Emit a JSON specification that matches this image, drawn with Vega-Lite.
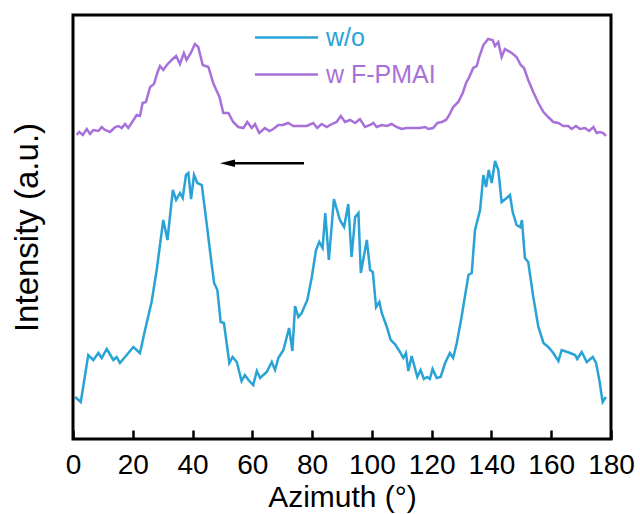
{
  "$schema": "https://vega.github.io/schema/vega-lite/v6.json",
  "width": 538,
  "height": 424,
  "autosize": "none",
  "padding": {"left": 73, "top": 15, "right": 29, "bottom": 75},
  "background": "white",
  "config": {"view": {"stroke": "black", "strokeWidth": 3}, "font": "Liberation Sans"},
  "datasets": {
    "profiles": [
      {"series":"w/o","azimuth":0.7,"intensity":42},{"series":"w/o","azimuth":2.6,"intensity":37},{"series":"w/o","azimuth":5.1,"intensity":84},{"series":"w/o","azimuth":6.8,"intensity":79},{"series":"w/o","azimuth":8.5,"intensity":86},{"series":"w/o","azimuth":9.6,"intensity":81},{"series":"w/o","azimuth":11.3,"intensity":90},{"series":"w/o","azimuth":13.5,"intensity":79},{"series":"w/o","azimuth":14.6,"intensity":82},{"series":"w/o","azimuth":15.7,"intensity":76},{"series":"w/o","azimuth":17.4,"intensity":82},{"series":"w/o","azimuth":20.2,"intensity":92},{"series":"w/o","azimuth":22.4,"intensity":86},{"series":"w/o","azimuth":24.1,"intensity":109},{"series":"w/o","azimuth":26.3,"intensity":137},{"series":"w/o","azimuth":28.0,"intensity":169},{"series":"w/o","azimuth":30.2,"intensity":219},{"series":"w/o","azimuth":31.6,"intensity":199},{"series":"w/o","azimuth":33.4,"intensity":249},{"series":"w/o","azimuth":34.5,"intensity":239},{"series":"w/o","azimuth":35.8,"intensity":246},{"series":"w/o","azimuth":36.7,"intensity":241},{"series":"w/o","azimuth":37.8,"intensity":264},{"series":"w/o","azimuth":38.6,"intensity":266},{"series":"w/o","azimuth":39.5,"intensity":240},{"series":"w/o","azimuth":40.5,"intensity":264},{"series":"w/o","azimuth":41.6,"intensity":256},{"series":"w/o","azimuth":43.1,"intensity":254},{"series":"w/o","azimuth":44.7,"intensity":216},{"series":"w/o","azimuth":45.8,"intensity":189},{"series":"w/o","azimuth":47.2,"intensity":156},{"series":"w/o","azimuth":48.3,"intensity":149},{"series":"w/o","azimuth":49.4,"intensity":117},{"series":"w/o","azimuth":50.5,"intensity":116},{"series":"w/o","azimuth":52.3,"intensity":76},{"series":"w/o","azimuth":53.4,"intensity":82},{"series":"w/o","azimuth":54.8,"intensity":77},{"series":"w/o","azimuth":56.4,"intensity":58},{"series":"w/o","azimuth":57.5,"intensity":64},{"series":"w/o","azimuth":58.7,"intensity":59},{"series":"w/o","azimuth":60.3,"intensity":54},{"series":"w/o","azimuth":61.5,"intensity":68},{"series":"w/o","azimuth":62.6,"intensity":61},{"series":"w/o","azimuth":64.8,"intensity":67},{"series":"w/o","azimuth":66.5,"intensity":77},{"series":"w/o","azimuth":67.6,"intensity":69},{"series":"w/o","azimuth":68.7,"intensity":81},{"series":"w/o","azimuth":70.4,"intensity":89},{"series":"w/o","azimuth":72.3,"intensity":111},{"series":"w/o","azimuth":73.4,"intensity":88},{"series":"w/o","azimuth":74.3,"intensity":133},{"series":"w/o","azimuth":75.4,"intensity":122},{"series":"w/o","azimuth":76.5,"intensity":126},{"series":"w/o","azimuth":78.4,"intensity":139},{"series":"w/o","azimuth":79.9,"intensity":162},{"series":"w/o","azimuth":81.3,"intensity":189},{"series":"w/o","azimuth":82.4,"intensity":197},{"series":"w/o","azimuth":83.5,"intensity":191},{"series":"w/o","azimuth":84.4,"intensity":226},{"series":"w/o","azimuth":85.6,"intensity":179},{"series":"w/o","azimuth":87.3,"intensity":240},{"series":"w/o","azimuth":89.3,"intensity":219},{"series":"w/o","azimuth":90.7,"intensity":212},{"series":"w/o","azimuth":92.1,"intensity":235},{"series":"w/o","azimuth":93.2,"intensity":182},{"series":"w/o","azimuth":94.4,"intensity":222},{"series":"w/o","azimuth":95.5,"intensity":226},{"series":"w/o","azimuth":96.3,"intensity":166},{"series":"w/o","azimuth":98.3,"intensity":199},{"series":"w/o","azimuth":99.4,"intensity":169},{"series":"w/o","azimuth":100.3,"intensity":167},{"series":"w/o","azimuth":101.4,"intensity":132},{"series":"w/o","azimuth":102.5,"intensity":137},{"series":"w/o","azimuth":103.3,"intensity":126},{"series":"w/o","azimuth":105.0,"intensity":112},{"series":"w/o","azimuth":106.3,"intensity":99},{"series":"w/o","azimuth":107.7,"intensity":95},{"series":"w/o","azimuth":109.4,"intensity":87},{"series":"w/o","azimuth":110.5,"intensity":81},{"series":"w/o","azimuth":111.4,"intensity":86},{"series":"w/o","azimuth":112.2,"intensity":68},{"series":"w/o","azimuth":113.3,"intensity":83},{"series":"w/o","azimuth":115.2,"intensity":62},{"series":"w/o","azimuth":116.3,"intensity":69},{"series":"w/o","azimuth":117.4,"intensity":60},{"series":"w/o","azimuth":118.5,"intensity":62},{"series":"w/o","azimuth":119.4,"intensity":60},{"series":"w/o","azimuth":120.3,"intensity":70},{"series":"w/o","azimuth":121.7,"intensity":61},{"series":"w/o","azimuth":123.0,"intensity":62},{"series":"w/o","azimuth":124.5,"intensity":76},{"series":"w/o","azimuth":126.1,"intensity":86},{"series":"w/o","azimuth":127.2,"intensity":81},{"series":"w/o","azimuth":128.4,"intensity":96},{"series":"w/o","azimuth":130.0,"intensity":122},{"series":"w/o","azimuth":132.3,"intensity":164},{"series":"w/o","azimuth":133.4,"intensity":166},{"series":"w/o","azimuth":134.5,"intensity":209},{"series":"w/o","azimuth":136.2,"intensity":229},{"series":"w/o","azimuth":137.3,"intensity":264},{"series":"w/o","azimuth":138.2,"intensity":252},{"series":"w/o","azimuth":139.1,"intensity":269},{"series":"w/o","azimuth":140.1,"intensity":256},{"series":"w/o","azimuth":141.2,"intensity":278},{"series":"w/o","azimuth":142.3,"intensity":269},{"series":"w/o","azimuth":143.4,"intensity":237},{"series":"w/o","azimuth":145.1,"intensity":241},{"series":"w/o","azimuth":146.2,"intensity":244},{"series":"w/o","azimuth":147.1,"intensity":227},{"series":"w/o","azimuth":148.4,"intensity":214},{"series":"w/o","azimuth":149.6,"intensity":212},{"series":"w/o","azimuth":150.2,"intensity":219},{"series":"w/o","azimuth":151.2,"intensity":181},{"series":"w/o","azimuth":152.3,"intensity":177},{"series":"w/o","azimuth":154.0,"intensity":142},{"series":"w/o","azimuth":155.7,"intensity":112},{"series":"w/o","azimuth":157.4,"intensity":96},{"series":"w/o","azimuth":159.0,"intensity":92},{"series":"w/o","azimuth":160.7,"intensity":86},{"series":"w/o","azimuth":162.4,"intensity":78},{"series":"w/o","azimuth":163.5,"intensity":89},{"series":"w/o","azimuth":166.3,"intensity":86},{"series":"w/o","azimuth":168.0,"intensity":84},{"series":"w/o","azimuth":168.7,"intensity":80},{"series":"w/o","azimuth":170.2,"intensity":87},{"series":"w/o","azimuth":171.9,"intensity":77},{"series":"w/o","azimuth":173.9,"intensity":82},{"series":"w/o","azimuth":175.0,"intensity":76},{"series":"w/o","azimuth":176.1,"intensity":59},{"series":"w/o","azimuth":177.2,"intensity":37},{"series":"w/o","azimuth":178.3,"intensity":42},
      {"series":"w F-PMAI","azimuth":1.2,"intensity":304},{"series":"w F-PMAI","azimuth":2.1,"intensity":307},{"series":"w F-PMAI","azimuth":3.3,"intensity":304},{"series":"w F-PMAI","azimuth":4.6,"intensity":310},{"series":"w F-PMAI","azimuth":5.7,"intensity":305},{"series":"w F-PMAI","azimuth":6.8,"intensity":309},{"series":"w F-PMAI","azimuth":8.5,"intensity":308},{"series":"w F-PMAI","azimuth":9.6,"intensity":312},{"series":"w F-PMAI","azimuth":10.7,"intensity":309},{"series":"w F-PMAI","azimuth":12.4,"intensity":307},{"series":"w F-PMAI","azimuth":14.1,"intensity":312},{"series":"w F-PMAI","azimuth":15.2,"intensity":313},{"series":"w F-PMAI","azimuth":16.3,"intensity":311},{"series":"w F-PMAI","azimuth":17.4,"intensity":315},{"series":"w F-PMAI","azimuth":18.5,"intensity":311},{"series":"w F-PMAI","azimuth":19.6,"intensity":316},{"series":"w F-PMAI","azimuth":21.3,"intensity":324},{"series":"w F-PMAI","azimuth":22.4,"intensity":323},{"series":"w F-PMAI","azimuth":23.3,"intensity":336},{"series":"w F-PMAI","azimuth":24.4,"intensity":337},{"series":"w F-PMAI","azimuth":25.8,"intensity":352},{"series":"w F-PMAI","azimuth":27.1,"intensity":355},{"series":"w F-PMAI","azimuth":28.2,"intensity":366},{"series":"w F-PMAI","azimuth":29.1,"intensity":373},{"series":"w F-PMAI","azimuth":30.2,"intensity":369},{"series":"w F-PMAI","azimuth":31.4,"intensity":374},{"series":"w F-PMAI","azimuth":33.0,"intensity":379},{"series":"w F-PMAI","azimuth":34.5,"intensity":383},{"series":"w F-PMAI","azimuth":35.8,"intensity":375},{"series":"w F-PMAI","azimuth":37.1,"intensity":386},{"series":"w F-PMAI","azimuth":38.0,"intensity":379},{"series":"w F-PMAI","azimuth":39.4,"intensity":386},{"series":"w F-PMAI","azimuth":40.8,"intensity":395},{"series":"w F-PMAI","azimuth":41.9,"intensity":392},{"series":"w F-PMAI","azimuth":43.4,"intensity":374},{"series":"w F-PMAI","azimuth":45.3,"intensity":372},{"series":"w F-PMAI","azimuth":46.9,"intensity":356},{"series":"w F-PMAI","azimuth":49.0,"intensity":342},{"series":"w F-PMAI","azimuth":50.3,"intensity":326},{"series":"w F-PMAI","azimuth":52.0,"intensity":326},{"series":"w F-PMAI","azimuth":53.6,"intensity":317},{"series":"w F-PMAI","azimuth":55.3,"intensity":312},{"series":"w F-PMAI","azimuth":57.0,"intensity":311},{"series":"w F-PMAI","azimuth":58.3,"intensity":317},{"series":"w F-PMAI","azimuth":59.8,"intensity":311},{"series":"w F-PMAI","azimuth":60.9,"intensity":315},{"series":"w F-PMAI","azimuth":62.3,"intensity":306},{"series":"w F-PMAI","azimuth":64.2,"intensity":311},{"series":"w F-PMAI","azimuth":65.7,"intensity":308},{"series":"w F-PMAI","azimuth":67.0,"intensity":310},{"series":"w F-PMAI","azimuth":68.7,"intensity":314},{"series":"w F-PMAI","azimuth":70.2,"intensity":314},{"series":"w F-PMAI","azimuth":72.0,"intensity":316},{"series":"w F-PMAI","azimuth":73.7,"intensity":313},{"series":"w F-PMAI","azimuth":76.0,"intensity":313},{"series":"w F-PMAI","azimuth":78.2,"intensity":313},{"series":"w F-PMAI","azimuth":80.4,"intensity":316},{"series":"w F-PMAI","azimuth":81.7,"intensity":311},{"series":"w F-PMAI","azimuth":83.2,"intensity":315},{"series":"w F-PMAI","azimuth":84.9,"intensity":312},{"series":"w F-PMAI","azimuth":86.6,"intensity":315},{"series":"w F-PMAI","azimuth":88.2,"intensity":317},{"series":"w F-PMAI","azimuth":89.6,"intensity":323},{"series":"w F-PMAI","azimuth":91.0,"intensity":317},{"series":"w F-PMAI","azimuth":92.7,"intensity":319},{"series":"w F-PMAI","azimuth":94.4,"intensity":316},{"series":"w F-PMAI","azimuth":96.0,"intensity":320},{"series":"w F-PMAI","azimuth":97.7,"intensity":312},{"series":"w F-PMAI","azimuth":99.4,"intensity":314},{"series":"w F-PMAI","azimuth":100.5,"intensity":316},{"series":"w F-PMAI","azimuth":101.6,"intensity":312},{"series":"w F-PMAI","azimuth":103.3,"intensity":314},{"series":"w F-PMAI","azimuth":105.0,"intensity":313},{"series":"w F-PMAI","azimuth":106.6,"intensity":315},{"series":"w F-PMAI","azimuth":108.3,"intensity":312},{"series":"w F-PMAI","azimuth":110.0,"intensity":310},{"series":"w F-PMAI","azimuth":111.6,"intensity":311},{"series":"w F-PMAI","azimuth":113.9,"intensity":311},{"series":"w F-PMAI","azimuth":116.1,"intensity":311},{"series":"w F-PMAI","azimuth":117.8,"intensity":312},{"series":"w F-PMAI","azimuth":118.9,"intensity":310},{"series":"w F-PMAI","azimuth":120.5,"intensity":311},{"series":"w F-PMAI","azimuth":121.9,"intensity":316},{"series":"w F-PMAI","azimuth":123.4,"intensity":317},{"series":"w F-PMAI","azimuth":124.8,"intensity":319},{"series":"w F-PMAI","azimuth":125.9,"intensity":324},{"series":"w F-PMAI","azimuth":127.2,"intensity":332},{"series":"w F-PMAI","azimuth":128.9,"intensity":337},{"series":"w F-PMAI","azimuth":130.4,"intensity":346},{"series":"w F-PMAI","azimuth":131.5,"intensity":356},{"series":"w F-PMAI","azimuth":132.6,"intensity":362},{"series":"w F-PMAI","azimuth":133.9,"intensity":371},{"series":"w F-PMAI","azimuth":135.1,"intensity":373},{"series":"w F-PMAI","azimuth":135.9,"intensity":382},{"series":"w F-PMAI","azimuth":137.3,"intensity":394},{"series":"w F-PMAI","azimuth":138.9,"intensity":400},{"series":"w F-PMAI","azimuth":140.4,"intensity":399},{"series":"w F-PMAI","azimuth":141.2,"intensity":393},{"series":"w F-PMAI","azimuth":142.3,"intensity":397},{"series":"w F-PMAI","azimuth":143.4,"intensity":382},{"series":"w F-PMAI","azimuth":144.5,"intensity":390},{"series":"w F-PMAI","azimuth":146.8,"intensity":386},{"series":"w F-PMAI","azimuth":148.4,"intensity":382},{"series":"w F-PMAI","azimuth":149.8,"intensity":374},{"series":"w F-PMAI","azimuth":150.9,"intensity":371},{"series":"w F-PMAI","azimuth":152.3,"intensity":359},{"series":"w F-PMAI","azimuth":154.0,"intensity":347},{"series":"w F-PMAI","azimuth":155.7,"intensity":336},{"series":"w F-PMAI","azimuth":157.4,"intensity":327},{"series":"w F-PMAI","azimuth":159.0,"intensity":322},{"series":"w F-PMAI","azimuth":160.7,"intensity":317},{"series":"w F-PMAI","azimuth":162.4,"intensity":316},{"series":"w F-PMAI","azimuth":164.0,"intensity":313},{"series":"w F-PMAI","azimuth":165.7,"intensity":313},{"series":"w F-PMAI","azimuth":166.8,"intensity":310},{"series":"w F-PMAI","azimuth":168.3,"intensity":313},{"series":"w F-PMAI","azimuth":169.6,"intensity":310},{"series":"w F-PMAI","azimuth":171.3,"intensity":311},{"series":"w F-PMAI","azimuth":172.7,"intensity":308},{"series":"w F-PMAI","azimuth":174.1,"intensity":312},{"series":"w F-PMAI","azimuth":175.2,"intensity":306},{"series":"w F-PMAI","azimuth":176.3,"intensity":307},{"series":"w F-PMAI","azimuth":177.4,"intensity":306},{"series":"w F-PMAI","azimuth":178.3,"intensity":303}
    ],
    "arrow": [{"azimuth": 77.3, "azimuth2": 52, "intensity": 275.7}],
    "arrowhead": [{"azimuth": 51.7, "intensity": 275.7}]
  },
  "layer": [
    {
      "data": {"name": "profiles"},
      "mark": {"type": "line", "strokeWidth": 2.5},
      "encoding": {
        "x": {
          "field": "azimuth", "type": "quantitative",
          "scale": {"domain": [0, 180], "nice": false},
          "axis": {
            "title": "Azimuth (°)",
            "values": [0,10,20,30,40,50,60,70,80,90,100,110,120,130,140,150,160,170,180],
            "labelExpr": "datum.value % 20 === 0 ? datum.label : ''",
            "labelOverlap": false, "labelFlush": false,
            "tickSize": {"condition": {"test": "datum.value % 20 !== 0", "value": -4}, "value": -9},
            "tickWidth": 2.5, "tickColor": "black",
            "domain": false, "grid": false,
            "labelFontSize": 28, "labelColor": "black", "labelPadding": 21,
            "titleFontSize": 30, "titleFontWeight": "normal", "titleColor": "black", "titlePadding": 3
          }
        },
        "y": {
          "field": "intensity", "type": "quantitative",
          "scale": {"domain": [0, 424], "nice": false},
          "axis": {
            "title": "Intensity (a.u.)", "labels": false, "ticks": false, "domain": false, "grid": false,
            "titleFontSize": 33, "titleFontWeight": "normal", "titleColor": "black", "titlePadding": 29
          }
        },
        "color": {
          "field": "series", "type": "nominal",
          "scale": {"domain": ["w/o", "w F-PMAI"], "range": ["#29a3d6", "#a871d9"]},
          "legend": {
            "title": null, "orient": "none", "legendX": 222, "legendY": 10,
            "symbolType": "M -5 0 H 1", "symbolSize": 441, "symbolStrokeWidth": 2.5,
            "labelFontSize": 25, "labelOffset": 6, "rowPadding": 11, "padding": 0,
            "encode": {"labels": {"update": {"fill": {"signal": "scale('color', datum.value)"}}}}
          }
        }
      }
    },
    {
      "data": {"name": "arrow"},
      "mark": {"type": "rule", "strokeWidth": 2.5, "color": "black"},
      "encoding": {
        "x": {"field": "azimuth", "type": "quantitative"},
        "x2": {"field": "azimuth2"},
        "y": {"field": "intensity", "type": "quantitative"}
      }
    },
    {
      "data": {"name": "arrowhead"},
      "mark": {"type": "point", "shape": "M -1 0 L 1 -0.5 L 1 0.5 Z", "size": 225, "filled": true, "color": "black", "opacity": 1},
      "encoding": {
        "x": {"field": "azimuth", "type": "quantitative"},
        "y": {"field": "intensity", "type": "quantitative"}
      }
    }
  ]
}
